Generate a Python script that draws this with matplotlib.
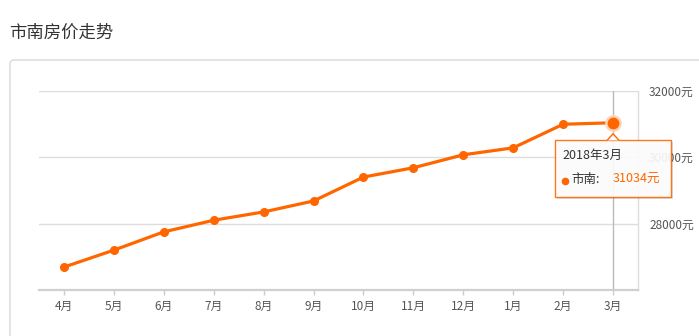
import matplotlib
matplotlib.use("Agg")
import matplotlib.pyplot as plt
from matplotlib.patches import FancyBboxPatch, Rectangle, Polygon
import numpy as np

plt.rcParams['font.family'] = ['Noto Sans CJK SC', 'DejaVu Sans']

# data
months = ['4月', '5月', '6月', '7月', '8月', '9月', '10月', '11月', '12月', '1月', '2月', '3月']
prices = [26690, 27200, 27750, 28100, 28350, 28680, 29400, 29680, 30070, 30280, 30990, 31034]
y_ticks = [28000, 30000, 32000]
tip_title = '2018年3月'
series_name = '市南'

W, H = 699, 336
ORANGE = '#ff6600'

fig = plt.figure(figsize=(W / 100, H / 100), dpi=100)

# background layer in pixel coords (y down)
bg = fig.add_axes([0, 0, 1, 1], zorder=0)
bg.set_xlim(0, W)
bg.set_ylim(H, 0)
bg.axis('off')
bg.text(9, 33, '市南房价走势', fontsize=12.5, color='#333333', va='center', ha='left')
bg.add_patch(FancyBboxPatch((10, 60), 720, 300, boxstyle='round,pad=0,rounding_size=4',
                            facecolor='white', edgecolor='#d9d9d9', linewidth=1))

# main chart
ax = fig.add_axes([39 / W, (H - 290) / H, (638 - 39) / W, (290 - 90.7) / H], zorder=1)
ax.patch.set_alpha(0)
x = np.arange(len(months))
ax.set_xlim(-0.5, len(months) - 0.5)
ax.set_ylim(26000, 32000)

for v in y_ticks:
    ax.axhline(v, color='#dddddd', linewidth=1, zorder=0)

ax.axvline(x[-1], color='#bbbbbb', linewidth=1, zorder=1)

ax.plot(x, prices, color=ORANGE, linewidth=2.3, marker='o', markersize=5.5, zorder=3)
ax.plot(x[-1], prices[-1], 'o', color='#ffd3b8', markersize=11, zorder=4)
ax.plot(x[-1], prices[-1], 'o', color=ORANGE, markersize=7.5, zorder=5)

ax.set_xticks(x)
ax.set_xticklabels(months)
ax.yaxis.tick_right()
ax.set_yticks(y_ticks)
ax.set_yticklabels([f'{v}元' for v in y_ticks])
ax.tick_params(axis='y', length=0, pad=8, labelsize=8.5, labelcolor='#555555')
ax.tick_params(axis='x', length=3.5, width=1, color='#cccccc', pad=4, labelsize=8.5,
               labelcolor='#555555')

for s in ['left', 'top']:
    ax.spines[s].set_visible(False)
ax.spines['right'].set_color('#dddddd')
ax.spines['right'].set_linewidth(1)
ax.spines['bottom'].set_color('#d0d0d0')
ax.spines['bottom'].set_linewidth(1.6)

# tooltip overlay, anchored to the last point
ov = fig.add_axes([0, 0, 1, 1], zorder=2)
ov.set_xlim(0, W)
ov.set_ylim(H, 0)
ov.axis('off')
px, py = ax.transData.transform((x[-1], prices[-1]))
px, py = px, H - py

bx0, by0, bw, bh = px - 58, py + 17, 116, 57
ov.add_patch(Rectangle((bx0 + 1.5, by0 + 2), bw, bh, facecolor='#000000', alpha=0.12,
                       edgecolor='none'))
ov.add_patch(Rectangle((bx0, by0), bw, bh, facecolor='white', alpha=0.9,
                       edgecolor=ORANGE, linewidth=1))
ov.add_patch(Polygon([(px - 6, by0 + 0.6), (px, by0 - 6), (px + 6, by0 + 0.6)],
                     closed=False, facecolor='white', edgecolor=ORANGE, linewidth=1))
ov.text(bx0 + 7, by0 + 16, tip_title, fontsize=9, color='#333333', va='center', ha='left')
ov.plot(bx0 + 10, by0 + 41, 'o', color=ORANGE, markersize=4.5)
ov.text(bx0 + 16, by0 + 40, f'{series_name}:', fontsize=9, color='#333333',
        va='center', ha='left')
ov.text(bx0 + 58, by0 + 40, f'{prices[-1]}元', fontsize=9, color=ORANGE,
        va='center', ha='left')

fig.savefig('out.png', dpi=100)
